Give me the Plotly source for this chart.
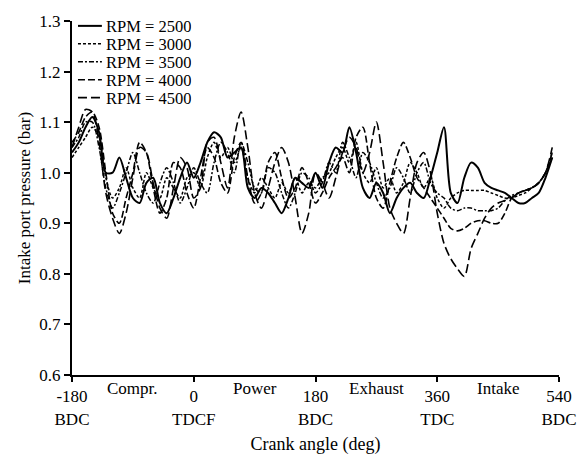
import plotly.graph_objects as go

crank_angle = list(range(-180, 540, 10))  # -180 .. 530

p2500 = [1.04, 1.06, 1.09, 1.11, 1.08, 1.00, 1.00, 1.03, 0.99, 0.95,
         0.94, 0.98, 0.99, 0.94, 0.92, 0.95, 0.99, 1.02, 0.99, 1.02,
         1.06, 1.08, 1.07, 1.03, 1.04, 1.05, 0.97, 0.95, 0.97, 0.96,
         0.94, 0.92, 0.95, 0.99, 0.98, 0.97, 1.00, 0.97, 1.02, 1.05,
         1.04, 1.09, 1.04, 0.97, 0.95, 0.98, 0.96, 0.92, 0.95, 0.97,
         0.98, 0.96, 0.95, 0.99, 1.04, 1.09, 0.96, 0.94, 0.99, 1.02,
         1.01, 0.98, 0.97, 0.965, 0.96, 0.95, 0.94, 0.94, 0.95, 0.96,
         0.99, 1.03]

p3000 = [1.03, 1.05, 1.07, 1.09, 1.07, 0.99, 0.95, 0.97, 1.01, 0.97,
         0.95, 1.00, 0.97, 0.95, 0.99, 0.97, 0.95, 0.99, 1.00, 0.97,
         1.03, 1.06, 1.03, 1.05, 1.02, 1.05, 0.99, 0.96, 0.99, 0.97,
         0.95, 0.98, 0.96, 0.99, 0.96, 0.98, 0.97, 0.99, 1.00, 1.03,
         1.05, 1.02, 1.06, 1.00, 0.98, 1.01, 0.97, 0.99, 0.96, 0.98,
         1.02, 1.00, 0.97, 0.99, 0.95, 0.93, 0.95, 0.96, 0.965, 0.965,
         0.965, 0.965, 0.96, 0.955, 0.95, 0.95, 0.955, 0.96, 0.97, 0.98,
         1.00, 1.03]

p3500 = [1.05, 1.07, 1.10, 1.10, 1.05, 0.97, 0.93, 0.96, 1.00, 1.04,
         1.00, 0.96, 0.94, 0.98, 1.01, 0.98, 0.94, 0.97, 1.01, 0.98,
         0.96, 1.02, 1.06, 1.04, 1.00, 1.06, 1.02, 0.97, 0.96, 1.01,
         1.00, 0.96, 0.93, 0.96, 1.00, 0.99, 0.96, 0.98, 1.02, 1.00,
         1.06, 1.03, 0.99, 1.04, 1.02, 0.98, 0.95, 0.97, 1.01, 0.99,
         0.96, 1.00, 1.02, 0.98, 0.96, 0.95, 0.93, 0.925, 0.93, 0.93,
         0.925, 0.925, 0.925, 0.93, 0.945, 0.955, 0.96, 0.965, 0.97, 0.98,
         1.00, 1.04]

p4000 = [1.06, 1.08, 1.11, 1.12, 1.09, 1.00, 0.92, 0.90, 0.95, 1.00,
         1.06, 1.04, 0.97, 0.92, 0.95, 1.02, 1.01, 0.96, 0.93, 0.99,
         1.05, 1.03, 0.98, 0.96, 1.03, 1.06, 0.99, 0.94, 0.96, 1.02,
         1.04, 0.99, 0.95, 0.97, 1.01, 0.98, 0.94, 0.96, 0.99, 1.01,
         1.03, 1.00, 1.07, 1.09, 1.02, 0.95, 0.93, 0.98, 1.03, 1.06,
         1.03, 0.99, 0.97, 0.95, 0.93, 0.91, 0.89, 0.885, 0.89, 0.90,
         0.905, 0.905, 0.90, 0.90, 0.92, 0.95, 0.96, 0.965, 0.97, 0.98,
         1.00, 1.04]

p4500 = [1.05, 1.09, 1.125, 1.12, 1.06, 0.96, 0.91, 0.88, 0.92, 0.99,
         1.05, 1.04, 0.98, 0.93, 0.91, 0.97, 1.03, 1.01, 0.95, 0.97,
         1.06, 1.07, 1.02, 0.97, 1.07, 1.12, 1.05, 0.96, 0.93, 0.97,
         1.02, 1.05, 1.02, 0.95, 0.88, 0.92, 1.00, 0.98, 0.95, 0.99,
         1.04, 1.07, 1.05, 1.00, 1.04, 1.10, 1.02, 0.93, 0.90, 0.88,
         0.95, 1.02, 1.04, 1.00, 0.92, 0.86, 0.83, 0.81, 0.795, 0.85,
         0.88, 0.91, 0.93, 0.94, 0.945, 0.95, 0.96, 0.965, 0.97, 0.98,
         1.00, 1.05]

series_names = ["RPM = 2500", "RPM = 3000", "RPM = 3500", "RPM = 4000", "RPM = 4500"]
series_values = [p2500, p3000, p3500, p4000, p4500]
series_dash = ["solid", "3px,2px", "5px,2px,2px,2px", "7px,3px", "9px,4px"]
series_width = [2.0, 1.5, 1.5, 1.6, 1.6]

tick_vals = [-180, 0, 180, 360, 540]
tick_text = ["-180<br>BDC", "0<br>TDCF", "180<br>BDC", "360<br>TDC", "540<br>BDC"]
stroke_angles = [-90, 90, 270, 450]
stroke_names = ["Compr.", "Power", "Exhaust", "Intake"]

FONT = "Liberation Serif, Times New Roman, serif"

W, H = 588, 463
ML, MR, MT, MB = 72, 27, 15, 85
PW, PH = W - ML - MR, H - MT - MB

def px_to_paper_x(px):
    return (px - ML) / PW

def px_to_paper_y(py):
    return (H - MB - py) / PH

fig = go.Figure()
for name, vals, dash, w in zip(series_names, series_values, series_dash, series_width):
    fig.add_trace(go.Scatter(
        x=crank_angle, y=vals, mode="lines", name=name, showlegend=False,
        line=dict(color="black", width=w, dash=dash, shape="spline", smoothing=0.8),
    ))

# compact legend, as in the reference
LEG_FONT = 16.5
LEG_STEP = 18.4
for i, (name, dash, w) in enumerate(zip(series_names, series_dash, series_width)):
    py = 20 + i * LEG_STEP
    yp = px_to_paper_y(py)
    fig.add_shape(type="line", xref="paper", yref="paper",
                  x0=px_to_paper_x(78), x1=px_to_paper_x(102), y0=yp, y1=yp,
                  line=dict(color="black", width=w, dash=dash))
    fig.add_annotation(x=px_to_paper_x(105), y=yp, xref="paper", yref="paper",
                       text=name, showarrow=False, xanchor="left", yanchor="middle",
                       height=18, borderpad=0, valign="middle",
                       font=dict(family=FONT, size=LEG_FONT, color="black"))

for ang, txt in zip(stroke_angles, stroke_names):
    fig.add_annotation(x=ang, xref="x", y=px_to_paper_y(392), yref="paper", text=txt,
                       showarrow=False, xanchor="center", yanchor="middle",
                       font=dict(family=FONT, size=17, color="black"))

fig.update_layout(
    width=W, height=H,
    margin=dict(l=ML, r=MR, t=MT, b=MB),
    plot_bgcolor="white", paper_bgcolor="white",
    font=dict(family=FONT, size=17, color="black"),
    showlegend=False,
    xaxis=dict(range=[-180, 540], tickmode="array", tickvals=tick_vals, ticktext=tick_text,
               showgrid=False, zeroline=False, showline=True, linecolor="black", linewidth=2,
               ticks="outside", ticklen=5, tickwidth=2, tickcolor="black",
               tickfont=dict(family=FONT, size=17),
               title=dict(text="Crank angle (deg)", font=dict(family=FONT, size=18), standoff=10)),
    yaxis=dict(range=[0.6, 1.3], tickmode="array",
               tickvals=[0.6, 0.7, 0.8, 0.9, 1.0, 1.1, 1.2, 1.3],
               ticktext=["0.6", "0.7", "0.8", "0.9", "1.0", "1.1", "1.2", "1.3"],
               showgrid=False, zeroline=False, showline=True, linecolor="black", linewidth=2,
               ticks="outside", ticklen=6, tickwidth=2, tickcolor="black",
               tickfont=dict(family=FONT, size=17),
               title=dict(text="Intake port pressure (bar)", font=dict(family=FONT, size=17), standoff=4)),
)

fig.write_html("out.html")
